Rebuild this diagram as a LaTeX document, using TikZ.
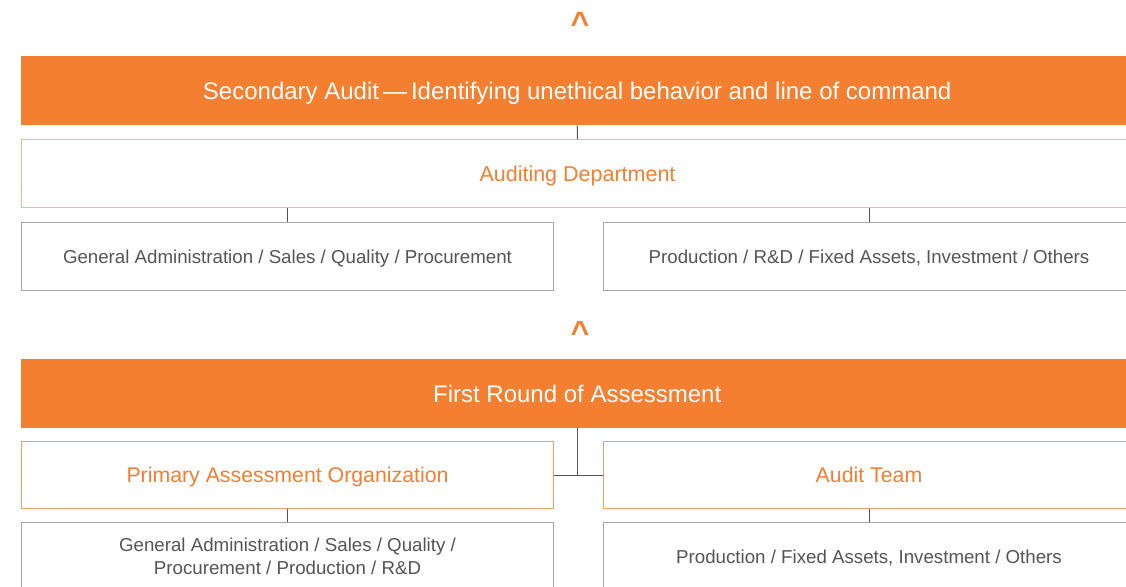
\documentclass[tikz,border=0pt]{standalone}
\usepackage{fontspec}
\setmainfont{Liberation Sans}
\definecolor{orng}{HTML}{F47F31}
\definecolor{lorng}{HTML}{F8B58A}
\definecolor{borng}{HTML}{F59E65}
\definecolor{gtxt}{HTML}{555555}
\definecolor{gbrd}{HTML}{A6A6A6}
\definecolor{conn}{HTML}{555555}
\begin{document}
\begin{tikzpicture}[x=1pt,y=-1pt,
  bar/.style={fill=orng, draw=none, text=white, font=\fontsize{24}{28}\selectfont, text height=17.2pt, text depth=0pt, minimum height=69pt, inner sep=0pt, anchor=north west},
  deptbox/.style={draw=lorng, line width=1pt, fill=white, text=orng, font=\fontsize{21.5}{26}\selectfont, text height=15.4pt, text depth=0pt, minimum height=68pt, inner sep=0pt, anchor=north west},
  orgbox/.style={draw=borng, line width=1pt, fill=white, text=orng, font=\fontsize{21.3}{26}\selectfont, text height=15.3pt, text depth=0pt, minimum height=67pt, inner sep=0pt, anchor=north west},
  subbox/.style={draw=gbrd, line width=1pt, fill=white, text=gtxt, font=\fontsize{18.7}{24}\selectfont, text height=13.4pt, text depth=0pt, minimum height=68pt, inner sep=0pt, anchor=north west},
  subboxtwo/.style={draw=gbrd, line width=1pt, fill=white, text=gtxt, font=\fontsize{18.7}{23.5}\selectfont, minimum height=68pt, inner sep=0pt, anchor=north west, align=center},
  caret/.style={text=orng, font=\bfseries\fontsize{32}{32}\selectfont, inner sep=0pt},
  link/.style={draw=conn, line width=1pt}]
\useasboundingbox (0,0) rectangle (1126,586);
\clip (0,0) rectangle (1126,586);
% top section
\node[caret] (c1) at (580,23) {\^{}};
\node[bar, minimum width=1112pt] (bar1) at (21,56) {Secondary Audit\,—\,Identifying unethical behavior and line of command};
\node[deptbox, minimum width=1112pt] (dept) at (21,139) {Auditing Department};
\node[subbox, minimum width=532pt] (s1) at (21,222) {General Administration / Sales / Quality / Procurement};
\node[subbox, minimum width=531pt] (s2) at (603,222) {Production / R\&D / Fixed Assets, Investment / Others};
\draw[link] (bar1.south) -- (dept.north);
\draw[link] (s1.north) -- (s1.north |- dept.south);
\draw[link] (s2.north) -- (s2.north |- dept.south);
% bottom section
\node[caret] (c2) at (580,332) {\^{}};
\node[bar, minimum width=1112pt] (bar2) at (21,359) {First Round of Assessment};
\node[orgbox, minimum width=532pt] (p1) at (21,441) {Primary Assessment Organization};
\node[orgbox, minimum width=531pt] (p2) at (603,441) {Audit Team};
\coordinate (mid) at (bar2.south |- p1.east);
\draw[link] (bar2.south) -- (mid);
\draw[link] (p1.east) -- (p2.west);
\node[subboxtwo, minimum width=532pt] (b1) at (21,522) {General Administration / Sales / Quality /\\Procurement / Production / R\&D};
\node[subbox, minimum width=531pt] (b2) at (603,522) {Production / Fixed Assets, Investment / Others};
\draw[link] (b1.north) -- (p1.south);
\draw[link] (b2.north) -- (p2.south);
\end{tikzpicture}
\end{document}
